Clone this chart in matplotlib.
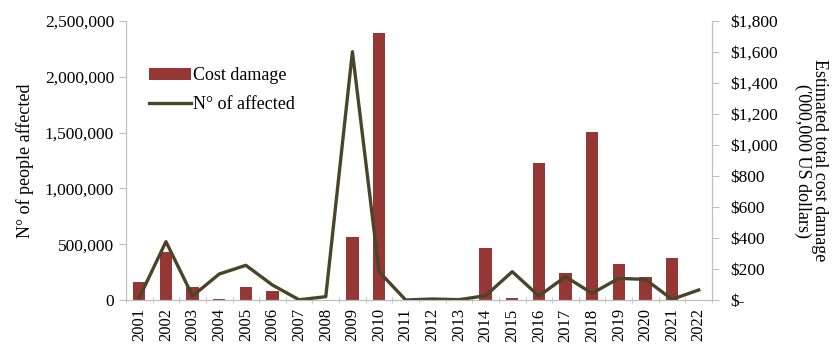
import numpy as np
import matplotlib
matplotlib.use('Agg')
import matplotlib.pyplot as plt
from matplotlib.ticker import FuncFormatter, FixedLocator

years = [str(y) for y in range(2001, 2023)]
# cost damage ('000,000 US$), right axis
cost = [118, 312, 82, 6, 82, 58, 0, 0, 409, 1720, 0, 0, 2,
        338, 11, 886, 176, 1082, 230, 148, 269, 0]
# number of people affected, left axis
affected = [21000, 523000, 36000, 233000, 311000, 134000, 2000, 30000,
            2225000, 254000, 0, 9000, 3000, 39000, 254000, 36000,
            209000, 60000, 194000, 185000, 6000, 90000]

plt.rcParams['font.family'] = ['Liberation Serif', 'DejaVu Serif']
GRAY = '#bfbfbf'
BAR = '#953735'
LINE = '#4a4528'

fig = plt.figure(figsize=(8.36, 3.45), dpi=100)
ax = fig.add_axes([0.1507, 0.1304, 0.701, 0.8086])
ax2 = ax.twinx()

x = np.arange(len(years))
ax2.bar(x, cost, width=0.46, color=BAR, label='Cost damage')
ax.plot(x, affected, color=LINE, lw=2.4, label='N° of affected')

ax.set_zorder(ax2.get_zorder() + 1)
ax.patch.set_visible(False)

ax.set_xlim(-0.5, len(years) - 0.5)
ax.set_ylim(0, 2500000)
ax2.set_ylim(0, 1800)
ax.set_yticks(np.arange(0, 2500001, 500000))
ax2.set_yticks(np.arange(0, 1801, 200))
ax.yaxis.set_major_formatter(FuncFormatter(lambda v, p: f'{int(v):,}'))
ax2.yaxis.set_major_formatter(FuncFormatter(lambda v, p: '$-' if v == 0 else f'${int(v):,}'))

ax.set_xticks(x)
ax.set_xticklabels(years, rotation=90)
ax.xaxis.set_minor_locator(FixedLocator(np.arange(-0.5, len(years), 1)))
ax.tick_params(axis='x', which='major', length=0, pad=6)
ax.tick_params(axis='x', which='minor', length=5, direction='inout', color=GRAY)

for a in (ax, ax2):
    for s in a.spines.values():
        s.set_color(GRAY)
    a.spines['top'].set_visible(False)
    a.tick_params(axis='y', color=GRAY, length=5, labelsize=12.5)
    a.tick_params(axis='x', labelsize=12)
ax2.tick_params(axis='y', pad=8)

ax.set_ylabel('N° of people affected', fontsize=13, labelpad=8)
ax2.set_ylabel("Estimated total cost damage\n('000,000 US dollars)",
               fontsize=13, rotation=270, labelpad=36, linespacing=1.0)

h1, l1 = ax2.get_legend_handles_labels()
h2, l2 = ax.get_legend_handles_labels()
ax.legend(h1 + h2, l1 + l2, loc='upper left', bbox_to_anchor=(0.027, 0.86),
          frameon=False, fontsize=13, handlelength=2.3, handletextpad=0.15,
          labelspacing=0.65, borderaxespad=0)

fig.savefig('out.png', dpi=100)
